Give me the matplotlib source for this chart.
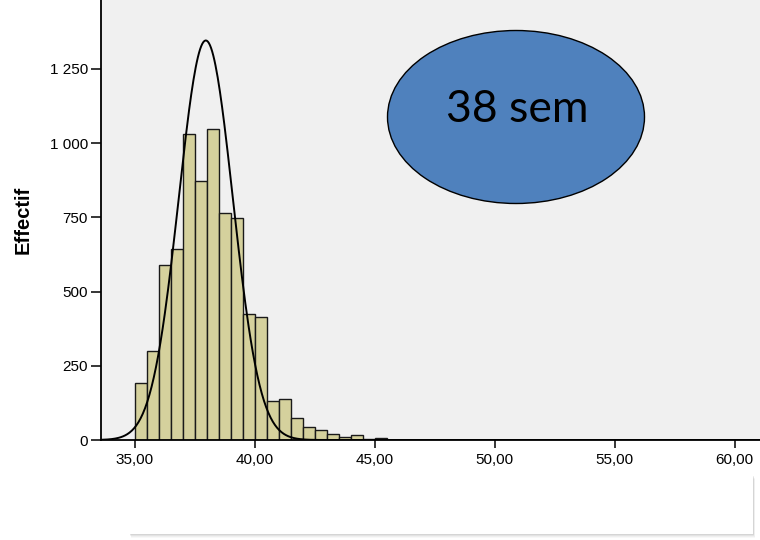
import numpy as np
import matplotlib
matplotlib.use("Agg")
import matplotlib.pyplot as plt
from matplotlib.patches import Ellipse, Rectangle

# histogram of gestational age (bins of 0.5 week starting at 35)
bin_left = [35.0, 35.5, 36.0, 36.5, 37.0, 37.5, 38.0, 38.5, 39.0, 39.5,
            40.0, 40.5, 41.0, 41.5, 42.0, 42.5, 43.0, 43.5, 44.0, 44.5,
            45.0, 46.5, 48.0, 51.0]
counts = [191, 300, 588, 644, 1030, 874, 1046, 766, 749, 424,
          415, 130, 139, 73, 43, 34, 20, 9, 18, 2,
          7, 1, 1, 1]
bin_width = 0.5

# fitted normal curve parameters
fit_mean = 37.97
fit_sd = 1.125
fit_n = 7590

y_ticks = [0, 250, 500, 750, 1000, 1250]
y_labels = ["0", "250", "500", "750", "1 000", "1 250"]
x_ticks = [35, 40, 45, 50, 55, 60]
x_labels = ["35,00", "40,00", "45,00", "50,00", "55,00", "60,00"]

label_text = "38 sem"

plt.rcParams['font.family'] = ['Liberation Sans', 'DejaVu Sans']

fig = plt.figure(figsize=(7.6, 5.4), dpi=100)
fig.patch.set_facecolor('white')
ax = fig.add_axes([101/760, 100/540, 659/760, 440/540])
ax.set_facecolor('#F0F0F0')

ax.bar(bin_left, counts, width=bin_width, align='edge',
       color='#D5D19D', edgecolor='#1a1a1a', linewidth=1.0, zorder=2)

xs = np.linspace(33.6, 61.1, 600)
pdf = fit_n * bin_width / (fit_sd * np.sqrt(2*np.pi)) * np.exp(-0.5*((xs - fit_mean)/fit_sd)**2)
ax.plot(xs, pdf, color='black', linewidth=1.4, zorder=3)

ax.set_xlim(33.604, 61.06)
ax.set_ylim(0, 1482)

ax.set_xticks(x_ticks)
ax.set_xticklabels(x_labels, fontsize=11)
ax.set_yticks(y_ticks)
ax.set_yticklabels(y_labels, fontsize=11)
ax.tick_params(axis='x', length=6, width=1.1, pad=3)
ax.tick_params(axis='y', length=7.5, width=1.1, pad=2)

for s in ['top', 'right']:
    ax.spines[s].set_visible(False)
for s in ['left', 'bottom']:
    ax.spines[s].set_linewidth(1.3)
    ax.spines[s].set_zorder(4)

ax.set_ylabel("Effectif", fontsize=14.5, fontweight='bold')
ax.yaxis.set_label_coords(-0.104, 0.50)

# blue ellipse annotation
ell = Ellipse((516/760, 1 - 117/540), 257/760, 173/540, transform=fig.transFigure,
              facecolor='#4F81BD', edgecolor='black', linewidth=1.0, zorder=5)
fig.patches.append(ell)
fig.text(517/760, 1 - 110/540, label_text, ha='center', va='center',
         fontsize=32, family=['Lato', 'DejaVu Sans'], color='black', zorder=6)

# white box below the axis with a soft shadow
bx, by, bw, bh = 129/760, 6/540, 624/760, 59/540
for i, a in enumerate([0.05, 0.07, 0.10, 0.14]):
    off = (4 - i) / 760
    offy = (4 - i) / 540
    fig.patches.append(Rectangle((bx + off*0.5, by - offy), bw, bh, transform=fig.transFigure,
                                 facecolor='gray', edgecolor='none', alpha=a, zorder=1))
fig.patches.append(Rectangle((bx, by), bw, bh, transform=fig.transFigure,
                             facecolor='white', edgecolor='none', zorder=2))

fig.savefig("out.png", dpi=100, facecolor='white')
